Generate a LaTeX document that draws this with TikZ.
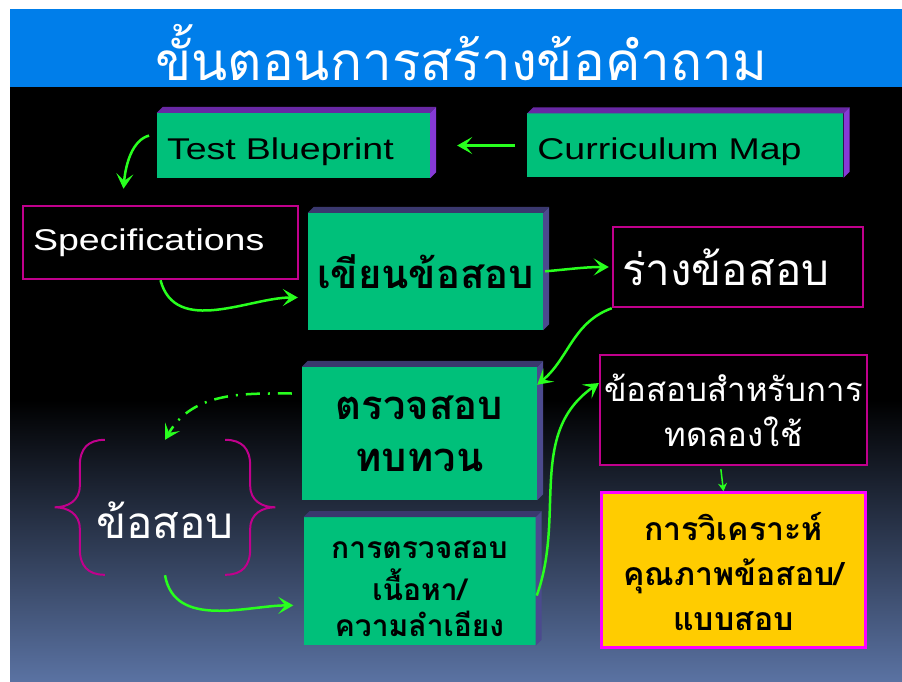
\documentclass[tikz,border=0pt]{standalone}
\usepackage{fontspec}
\setmainfont{Liberation Sans}
\newfontfamily\widesans[FakeStretch=1.25]{Liberation Sans}
\newfontfamily\thaifont[Script=Thai]{Loma}
\usepackage{xcolor}
\usetikzlibrary{arrows,arrows.meta,calc,positioning}

\definecolor{titleblue}{RGB}{0,126,234}
\definecolor{boxgreen}{RGB}{0,192,122}
\definecolor{toppurple}{RGB}{104,40,164}
\definecolor{sidepurple}{RGB}{134,58,214}
\definecolor{topslate}{RGB}{58,56,110}
\definecolor{sideslate}{RGB}{76,74,142}
\definecolor{rimmagenta}{RGB}{192,0,140}
\definecolor{brightmagenta}{RGB}{255,0,255}
\definecolor{arrowgreen}{RGB}{40,255,30}
\definecolor{boxyellow}{RGB}{255,204,0}
\definecolor{slidebottom}{RGB}{90,114,162}

% top and side faces of a raised box
\newcommand{\raised}[3]{%
  \fill[#2] (#1.north west) -- ++(6,6) -- ($(#1.north east)+(6,6)$) -- (#1.north east) -- cycle;
  \fill[#3] (#1.north east) -- ++(6,6) -- ($(#1.south east)+(6,6)$) -- (#1.south east) -- cycle;}
% text set lower than the middle of its box
\newcommand{\lowered}[2]{\raisebox{-#1}[\height][\depth]{\begin{tabular}{@{}c@{}}#2\end{tabular}}}

\begin{document}
\begin{tikzpicture}[x=1pt,y=1pt,>={Stealth[length=15pt,width=17pt,inset=7pt]},auto]
  \tikzstyle{gbox}=[fill=boxgreen, inner sep=4pt, align=center]
  \tikzstyle{dark}=[fill=black, draw=rimmagenta, line width=2.5pt, text=white, inner sep=4pt, align=center]
  \tikzstyle{eng}=[font=\widesans\fontsize{30}{34}\selectfont]
  \tikzstyle{thaibold}=[font=\thaifont\bfseries\fontsize{32}{45}\selectfont]
  \tikzstyle{thaiplain}=[font=\thaifont\fontsize{33}{45}\selectfont]
  \tikzstyle{flow}=[->, draw=arrowgreen, line width=2.5pt]
  \tikzstyle{brace}=[draw=rimmagenta, line width=2pt]

  \useasboundingbox (0,0) rectangle (902,681);
  % slide background
  \fill[white] (0,0) rectangle (902,681);
  \fill[black] (10,281) rectangle (902,594);
  \shade[top color=black, bottom color=slidebottom] (10,0) rectangle (902,281);
  \fill[titleblue] (10,594) rectangle (902,672);
  \node[text=white, font=\thaifont\fontsize{53}{58}\selectfont] (title) at (461,628) {ขั้นตอนการสร้างข้อคำถาม};

  \node[gbox, eng, minimum width=273pt, minimum height=65pt, inner xsep=10pt, text width=253pt, align=left] (blueprint) at (293.5,535.5) {\raisebox{-6pt}[\height][\depth]{Test Blueprint}};
  \node[gbox, eng, minimum width=316pt, minimum height=64pt, inner xsep=10pt, text width=296pt, align=left] (curmap) [right=97pt of blueprint] {\raisebox{-6pt}[\height][\depth]{Curriculum Map}};
  \node[dark, eng, minimum width=275pt, minimum height=73pt, inner xsep=10pt, text width=255pt, align=left] (spec) at (160.5,438.5) {Specifications};
  \node[gbox, thaibold, minimum width=235pt, minimum height=117pt, font=\thaifont\bfseries\fontsize{40}{44}\selectfont] (write) at (425.5,409.5) {\lowered{7pt}{เขียนข้อสอบ}};
  \node[dark, thaiplain, minimum width=250pt, minimum height=80pt, inner xsep=9pt, text width=232pt, align=left, font=\thaifont\fontsize{44}{48}\selectfont] (draft) at (738,414) {ร่างข้อสอบ};
  \node[gbox, thaibold, minimum width=235pt, minimum height=133pt, font=\thaifont\bfseries\fontsize{40}{52}\selectfont] (review) at (419.5,247.5) {ตรวจสอบ\\ทบทวน};
  \node[gbox, thaibold, minimum width=232pt, minimum height=128pt, font=\thaifont\bfseries\fontsize{30}{35}\selectfont] (content) [below=17pt of review] {\lowered{9pt}{การตรวจสอบ\\เนื้อหา/\\ความลำเอียง}};
  \node[dark, thaiplain, minimum width=257pt, minimum height=110pt] (trial) at (733.5,271) {ข้อสอบสำหรับการ\\ทดลองใช้};
  \node[fill=boxyellow, draw=brightmagenta, line width=3pt, thaibold, align=center, minimum width=264pt, minimum height=155pt] (analysis) [below=25pt of trial] {\lowered{6pt}{การวิเคราะห์\\คุณภาพข้อสอบ/\\แบบสอบ}};
  \node[thaiplain, text=white, minimum width=120pt, minimum height=135pt, inner xsep=0pt, font=\thaifont\fontsize{44}{48}\selectfont] (item) at (165,173.5) {\makebox[0pt]{\lowered{20pt}{ข้อสอบ}}};

  \raised{blueprint}{toppurple}{sidepurple}
  \raised{curmap}{toppurple}{sidepurple}
  \raised{write}{topslate}{sideslate}
  \raised{review}{topslate}{sideslate}
  \raised{content}{topslate}{sideslate}

  % braces round the item
  \draw[brace] (item.north west) .. controls +(-17,0) and +(0,17) .. ++(-25,-26) -- ++(0,-20)
    .. controls +(0,-15) and +(13,0) .. ++(-25,-21.5) .. controls +(13,0) and +(0,15) .. ++(25,-21.5)
    -- ++(0,-20) .. controls +(0,-17) and +(-17,0) .. ++(25,-26);
  \draw[brace] (item.north east) .. controls +(17,0) and +(0,17) .. ++(25,-26) -- ++(0,-20)
    .. controls +(0,-15) and +(-13,0) .. ++(25,-21.5) .. controls +(-13,0) and +(0,15) .. ++(-25,-21.5)
    -- ++(0,-20) .. controls +(0,-17) and +(17,0) .. ++(-25,-26);

  \path
    (curmap.west) edge[flow, shorten <=12pt, shorten >=27pt] (blueprint.east)
    ([yshift=12pt]blueprint.west) edge[flow, shorten <=8pt, out=195, in=85] ([xshift=-37pt,yshift=16pt]spec.north)
    (spec.south) edge[flow, out=-75, in=180, shorten >=10pt] ([yshift=-26pt]write.west)
    (write.east) edge[flow, out=5, in=180, shorten <=2pt, shorten >=3pt] (draft.west)
    (draft.south west) edge[flow, out=200, in=40] ([yshift=-18pt]review.north east)
    ([yshift=40pt]review.west) edge[flow, shorten <=10pt, out=180, in=60, dash pattern=on 14pt off 8pt on 2pt off 8pt] (item.north)
    (item.south) edge[flow, out=-80, in=180, shorten >=10pt] ([yshift=-24pt]content.west)
    ([yshift=-17pt]content.east) edge[flow, shorten <=3pt, out=70, in=215] ([yshift=27pt]trial.west)
    ([xshift=-13pt]trial.south) edge[->, draw=arrowgreen, line width=1.5pt, >={Stealth[length=8pt,width=9pt]}, shorten <=3pt] ([xshift=-10pt]analysis.north);
\end{tikzpicture}
\end{document}
